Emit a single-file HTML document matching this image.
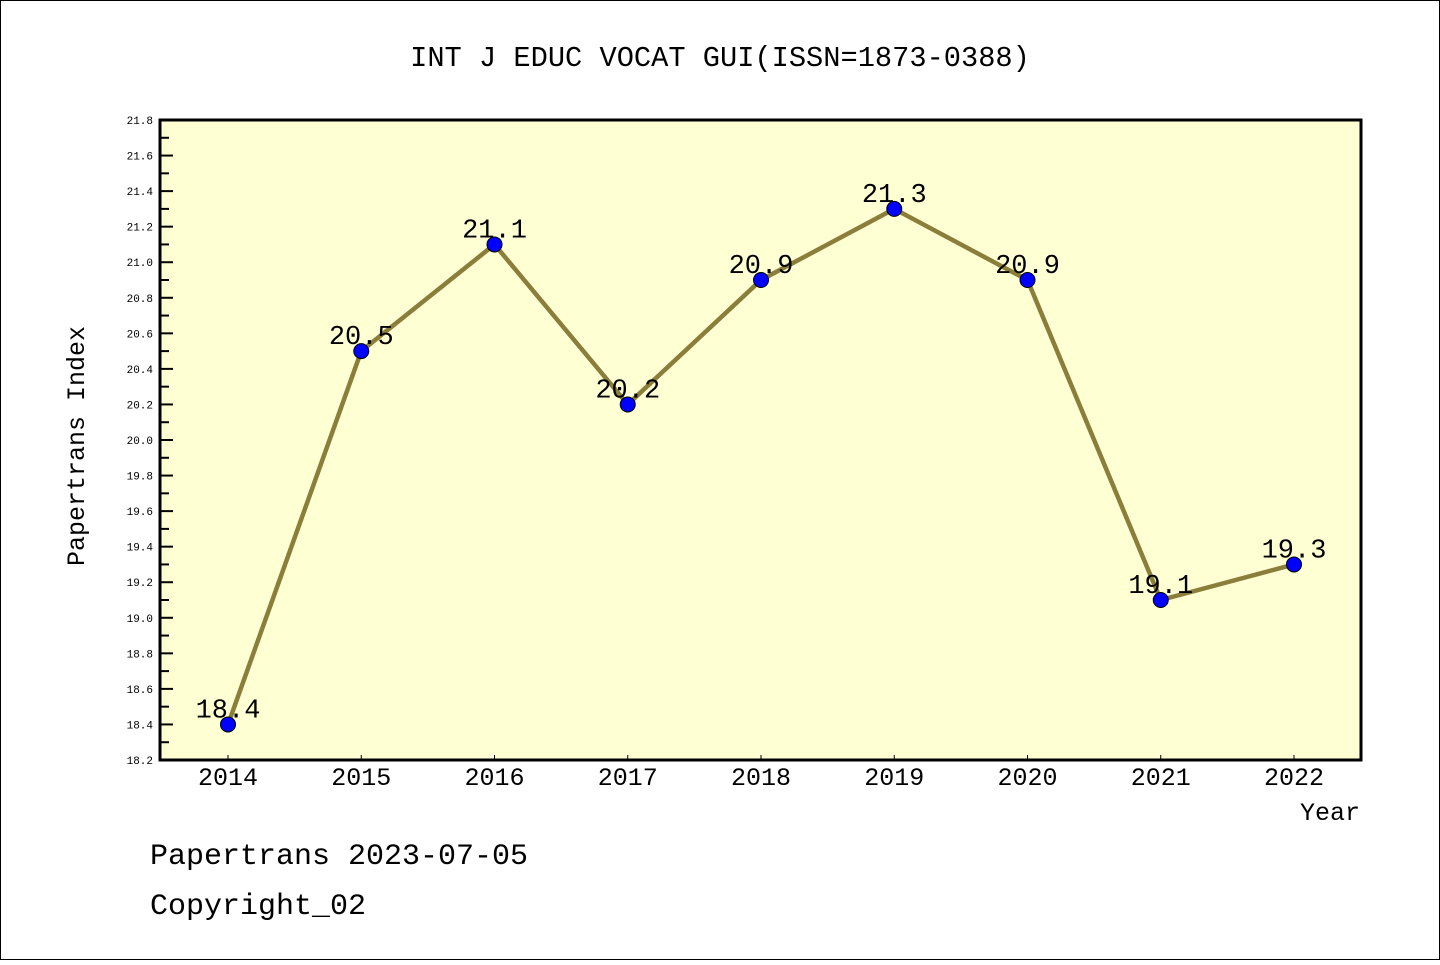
<!DOCTYPE html>
<html><head><meta charset="utf-8"><style>
body{margin:0;background:#fff}
svg text{font-family:"Liberation Mono",monospace}
</style></head><body>
<svg id="c" width="1440" height="960">
<rect x="0.5" y="0.5" width="1439" height="959" fill="#fff" stroke="#000"/>
<text x="720" y="66" font-size="28.7" text-anchor="middle">INT J EDUC VOCAT GUI(ISSN=1873-0388)</text>
<rect x="160" y="120" width="1201" height="640" fill="#ffffd4"/>
<g id="g"></g>
<rect x="160" y="120" width="1201" height="640" fill="none" stroke="#000" stroke-width="3"/>
<text x="84" y="446" font-size="25" text-anchor="middle" transform="rotate(-90 84 446)">Papertrans Index</text>
<text x="1360" y="820" font-size="25" text-anchor="end">Year</text>
<text x="150" y="864" font-size="30">Papertrans 2023-07-05</text>
<text x="150" y="914" font-size="30">Copyright_02</text>
</svg>
<script>
const years=[2014,2015,2016,2017,2018,2019,2020,2021,2022];
const values=[18.4,20.5,21.1,20.2,20.9,21.3,20.9,19.1,19.3];
const yTicks=[18.2,18.4,18.6,18.8,19.0,19.2,19.4,19.6,19.8,20.0,20.2,20.4,20.6,20.8,21.0,21.2,21.4,21.6,21.8];
const NS="http://www.w3.org/2000/svg",g=document.getElementById('g');
const X=v=>228+(v-2014)*133.25, Y=v=>760-(v-18.2)/3.6*640;
function mk(t,a,txt){const e=document.createElementNS(NS,t);for(const k in a)e.setAttribute(k,a[k]);if(txt!=null)e.textContent=txt;g.appendChild(e);return e;}
yTicks.forEach((t,i)=>{
 const y=Y(t);
 const l=mk('line',{x1:160,x2:173,y1:y,y2:y,stroke:'#000','stroke-width':2});
 
 
 const tx=mk('text',{x:153,y:y+4,'font-size':11,'text-anchor':'end'},t.toFixed(1));
 
 
 if(i<yTicks.length-1){const ym=Y(t+0.1);
  const m=mk('line',{x1:160,x2:169,y1:ym,y2:ym,stroke:'#000','stroke-width':2});
  
  }
});
years.forEach(yr=>{
 const x=X(yr);
 const l=mk('line',{x1:x,x2:x,y1:755,y2:760,stroke:'#000','stroke-width':1});
 
 
 const t=mk('text',{x:x,y:785,'font-size':25,'text-anchor':'middle'},String(yr));
 
 
});
const pl=mk('polyline',{points:years.map((y,i)=>X(y)+','+Y(values[i])).join(' '),fill:'none',stroke:'#8b7d3a','stroke-width':4.5});


years.forEach((yr,i)=>{
 const x=X(yr),y=Y(values[i]);
 const t=mk('text',{x:x,y:y-7,'font-size':27,'text-anchor':'middle'},values[i].toFixed(1));
 
 
 const c=mk('circle',{cx:x,cy:y,r:7.5,fill:'#0000ff',stroke:'#000','stroke-width':1});
 
 
});
</script>
</body></html>
